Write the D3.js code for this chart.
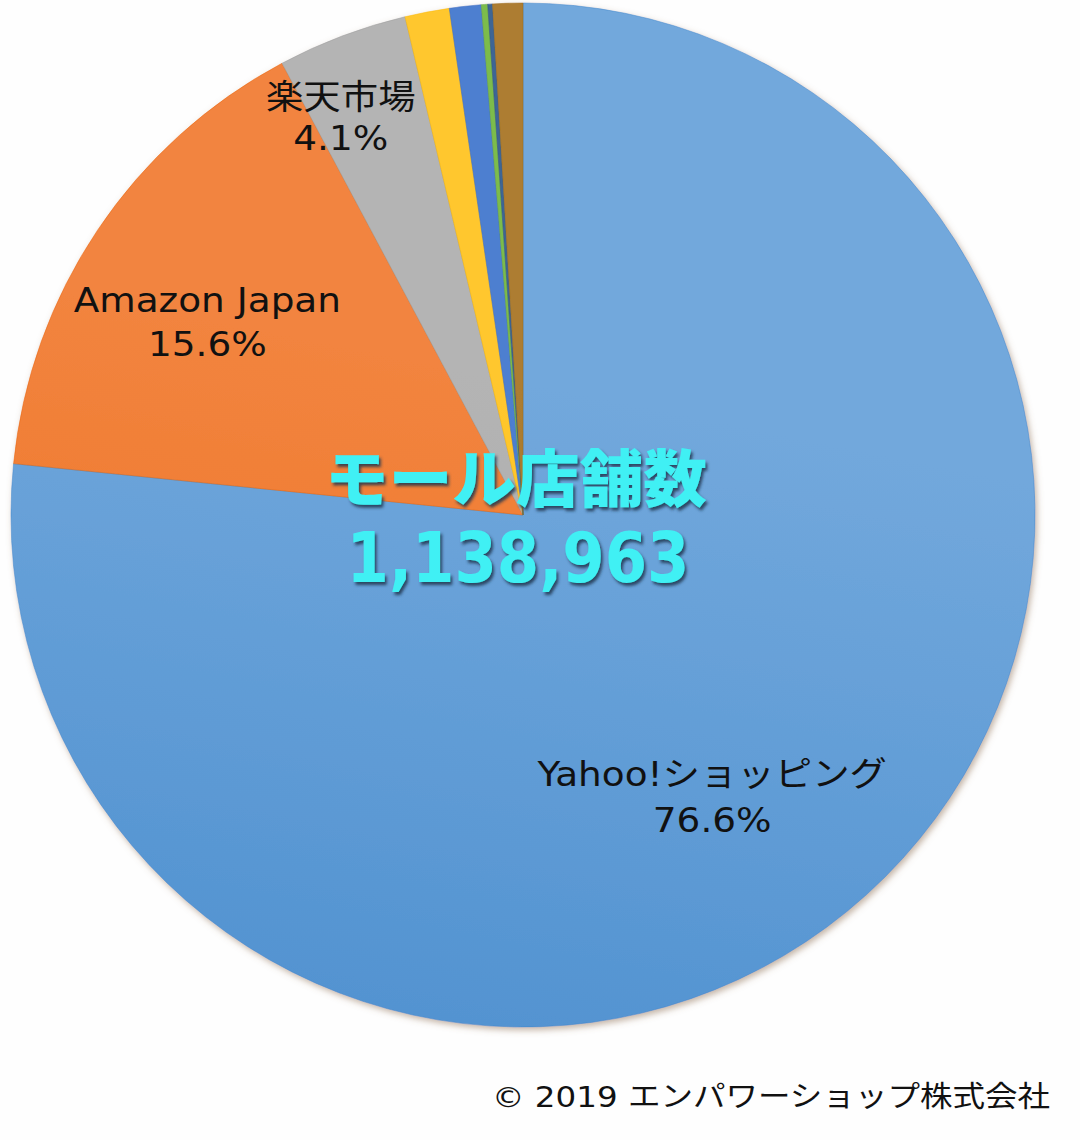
<!DOCTYPE html>
<html><head><meta charset="utf-8">
<script src="https://cdn.jsdelivr.net/npm/d3@7/dist/d3.min.js"></script>
<style>html,body{margin:0;padding:0;background:#fefefe;}svg{display:block;}</style>
</head><body>
<svg id="chart" width="1080" height="1140"></svg>
<script>
const categories = ["Yahoo!ショッピング","Amazon Japan","楽天市場","その他1","その他2","その他3","その他4","その他5"];
const shares = [76.6, 15.6, 4.1, 1.4, 1.0, 0.2, 0.15, 0.95];
const colorsTop = ["#72a8dc","#f2843f","#b4b4b4","#ffc72e","#4d7fd0","#7cbc4c","#3d6595","#ad7d30"];
const colorsBottom = ["#3f86ca","#e9650b","#9c9c9c","#fbb800","#3f6fc2","#68a740","#2f5683","#9c6c22"];
const showLabel = [true,true,true,false,false,false,false,false];
const labelPct = ["76.6%","15.6%","4.1%"];
const centerTitle = "モール店舗数";
const centerTotal = "1,138,963";
const footer = "© 2019 エンパワーショップ株式会社";

const svg = d3.select("#chart");
const cx = 523, cy = 515, R = 512;
const defs = svg.append("defs");
const sh = defs.append("filter").attr("id","pieShadow").attr("x","-10%").attr("y","-10%").attr("width","120%").attr("height","120%");
sh.append("feDropShadow").attr("dx",2).attr("dy",3).attr("stdDeviation",3).attr("flood-color","#8a6a50").attr("flood-opacity",0.5);
const ts = defs.append("filter").attr("id","txtShadow").attr("x","-10%").attr("y","-20%").attr("width","120%").attr("height","140%");
ts.append("feDropShadow").attr("dx",2).attr("dy",3).attr("stdDeviation",1.5).attr("flood-color","#1b3550").attr("flood-opacity",0.85);

shares.forEach((v,i)=>{
  const g = defs.append("linearGradient").attr("id","grad"+i)
    .attr("gradientUnits","userSpaceOnUse").attr("x1",cx+R*0.3).attr("y1",cy-R).attr("x2",cx-R*0.1).attr("y2",cy+R);
  g.append("stop").attr("offset","0%").attr("stop-color",colorsTop[i]);
  g.append("stop").attr("offset","100%").attr("stop-color",colorsBottom[i]);
});

const pie = d3.pie().sort(null).value(d=>d)(shares);
const arc = d3.arc().innerRadius(0).outerRadius(R);
const G = svg.append("g").attr("transform",`translate(${cx},${cy})`);
G.append("g").attr("filter","url(#pieShadow)")
  .selectAll("path").data(pie).join("path")
  .attr("d",arc).attr("fill",(d,i)=>`url(#grad${i})`)
  .attr("stroke",(d,i)=>colorsBottom[i]).attr("stroke-width",0.5);

// label layout: centroid at radial fraction, plus small nudges
const labelFrac = [0.72, 0.70, 0.88];
const labelNudge = [[-58,4],[-18,3],[-23,21]];
const lineGap = [46, 44, 41];
const widen = 1.1;
const labelFont = "'DejaVu Sans','Noto Sans CJK JP',sans-serif";
pie.forEach((d,i)=>{
  if(!showLabel[i]) return;
  const a = d3.arc().innerRadius(R*labelFrac[i]).outerRadius(R*labelFrac[i]);
  const c = a.centroid(d);
  const x = c[0] + labelNudge[i][0], y = c[1] - 6 + labelNudge[i][1];
  [categories[i], labelPct[i]].forEach((s,k)=>{
    const t = G.append("text").attr("text-anchor","middle")
      .attr("font-family",labelFont).attr("font-size",34).attr("fill","#111")
      .attr("x",x).attr("y",y+k*lineGap[i]).text(s);
    const w = t.node().getComputedTextLength();
    t.attr("textLength",w*widen).attr("lengthAdjust","spacingAndGlyphs");
  });
});

// center text
svg.append("text").attr("x",516).attr("y",502).attr("text-anchor","middle")
  .attr("font-family","'Noto Sans CJK JP',sans-serif").attr("font-weight",900)
  .attr("font-size",62).attr("fill","#3ff0f4").attr("filter","url(#txtShadow)")
  .attr("textLength",382).attr("lengthAdjust","spacingAndGlyphs").text(centerTitle);
svg.append("text").attr("x",518).attr("y",582).attr("text-anchor","middle")
  .attr("font-family","'DejaVu Sans',sans-serif").attr("font-weight","bold")
  .attr("font-size",70).attr("fill","#3ff0f4").attr("filter","url(#txtShadow)")
  .attr("textLength",343).attr("lengthAdjust","spacingAndGlyphs").text(centerTotal);

svg.append("text").attr("x",492).attr("y",1107)
  .attr("font-family",labelFont).attr("font-size",29).attr("fill","#111")
  .attr("textLength",558).attr("lengthAdjust","spacingAndGlyphs").text(footer);
</script>
</body></html>
